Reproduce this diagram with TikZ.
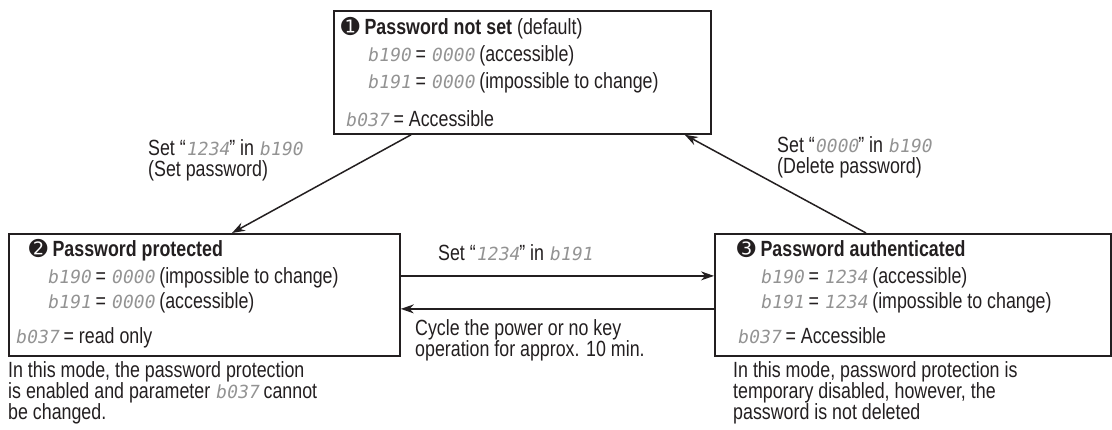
\documentclass[tikz,border=0pt]{standalone}
\usepackage{fontspec}
\setmainfont{Liberation Sans}[FakeStretch=0.81]
\newfontfamily\segfont{DejaVu Sans Mono}[FakeSlant=0.18,Scale=0.82]
\newfontfamily\dingfont{DejaVu Sans}
\usepackage{xcolor}
\usetikzlibrary{arrows.meta,positioning}
\definecolor{SegGray}{HTML}{939393}
\definecolor{LineDark}{HTML}{231F20}
\newcommand{\seg}[1]{{\segfont\color{SegGray}#1}}
\newcommand{\cnum}[1]{{\dingfont #1}}

\begin{document}
\begin{tikzpicture}[
  x=1pt,y=-1pt,
  every node/.style={font=\fontsize{22}{21}\selectfont,inner sep=0pt,text=LineDark},
  modebox/.style={draw=LineDark,line width=1.8pt,anchor=north west},
  boxtext/.style={anchor=north west,align=left},
  note/.style={anchor=north west,align=left},
  arr/.style={-{Stealth[length=13pt,width=9pt]},line width=1.5pt,draw=LineDark}
]
  \useasboundingbox (0,0) rectangle (1112,430);

  % the three modes
  \node[modebox,minimum width=377pt,minimum height=123pt] (notset) at (333,10) {};
  \node[modebox,minimum width=391pt,minimum height=122pt] (prot) at (8,233) {};
  \node[modebox,minimum width=396pt,minimum height=122pt] (auth) at (714,233) {};

  \node[boxtext] (notsettxt) at ([xshift=8pt,yshift=-7pt]notset.north west)
    {\cnum{➊} \textbf{Password not set} (default)\\[6pt]
     \hspace*{26pt}\seg{b190} = \seg{0000} (accessible)\\[6pt]
     \hspace*{26pt}\seg{b191} = \seg{0000} (impossible to change)\\[17pt]
     \hspace*{4pt}\seg{b037} = Accessible};
  \node[boxtext] (prottxt) at ([xshift=7pt,yshift=-6pt]prot.north west)
    {\hspace*{14pt}\cnum{➋} \textbf{Password protected}\\[6pt]
     \hspace*{32pt}\seg{b190} = \seg{0000} (impossible to change)\\[4pt]
     \hspace*{32pt}\seg{b191} = \seg{0000} (accessible)\\[14pt]
     \seg{b037} = read only};
  \node[boxtext] (authtxt) at ([xshift=23pt,yshift=-6pt]auth.north west)
    {\cnum{➌} \textbf{Password authenticated}\\[6pt]
     \hspace*{23pt}\seg{b190} = \seg{1234} (accessible)\\[4pt]
     \hspace*{23pt}\seg{b191} = \seg{1234} (impossible to change)\\[14pt]
     \seg{b037} = Accessible};

  % transitions
  \node[note] (setpw) at (148,139) {Set “\seg{1234}” in \seg{b190}\\(Set password)};
  \node[note] (delpw) at (777,136) {Set “\seg{0000}” in \seg{b190}\\(Delete password)};
  \node[note] (authpw) at (438,244) {Set “\seg{1234}” in \seg{b191}};
  \node[note] (cycle) at (415,319) {Cycle the power or no key\\operation for approx. 10 min.};

  \draw[arr] ([xshift=78pt]notset.south west) -- ([xshift=224pt]prot.north west);
  \draw[arr] ([xshift=152pt]auth.north west) -- ([xshift=-27pt]notset.south east);
  \draw[arr] ([yshift=19pt]prot.east) -- ([yshift=19pt]auth.west);
  \draw[arr] ([yshift=-14pt]auth.west) -- ([yshift=-14pt]prot.east);

  % explanations
  \node[note] (protnote) at (8,361)
    {In this mode, the password protection\\is enabled and parameter \seg{b037} cannot\\be changed.};
  \node[note] (authnote) at (733,361)
    {In this mode, password protection is\\temporary disabled, however, the\\password is not deleted};
\end{tikzpicture}
\end{document}
